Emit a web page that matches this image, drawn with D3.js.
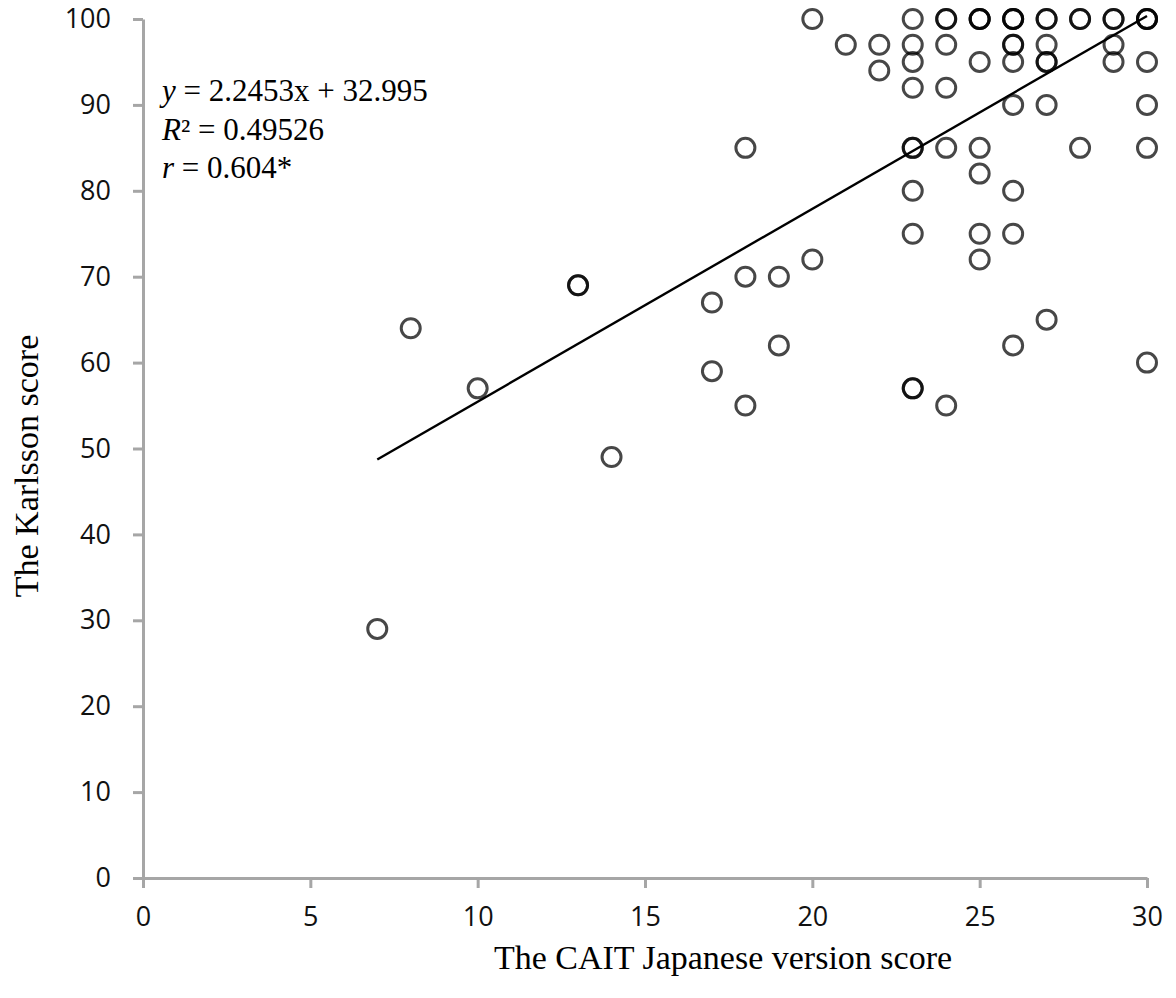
<!DOCTYPE html>
<html>
<head>
<meta charset="utf-8">
<script src="https://cdn.jsdelivr.net/npm/d3@7"></script>
<style>
  html, body { margin: 0; padding: 0; background: #fff; }
  svg { display: block; }
</style>
</head>
<body>
<svg id="chart" width="1176" height="998"></svg>
<script>
// CAIT score (x) vs Karlsson score (y)
let caitScore = [
  7, 8, 10, 13, 13, 14, 17, 17, 18, 18, 18, 19, 19, 20, 20, 21, 22, 22,
  23, 23, 23, 23, 23, 23, 23, 23, 23, 23,
  24, 24, 24, 24, 24, 24,
  25, 25, 25, 25, 25, 25, 25, 25,
  26, 26, 26, 26, 26, 26, 26, 26, 26, 26,
  27, 27, 27, 27, 27, 27, 27,
  28, 28, 28,
  29, 29, 29, 29,
  30, 30, 30, 30, 30, 30, 30
]
let karlssonScore = [
  29, 64, 57, 69, 69, 49, 67, 59, 85, 70, 55, 70, 62, 100, 72, 97, 97, 94,
  100, 97, 95, 92, 85, 85, 80, 75, 57, 57,
  100, 100, 97, 92, 85, 55,
  100, 100, 100, 95, 85, 82, 75, 72,
  100, 100, 100, 97, 97, 95, 90, 80, 75, 62,
  100, 100, 97, 95, 95, 90, 65,
  100, 100, 85,
  100, 100, 97, 95,
  100, 100, 100, 95, 90, 85, 60
]

let xTicks = [0, 5, 10, 15, 20, 25, 30]
let yTicks = [0, 10, 20, 30, 40, 50, 60, 70, 80, 90, 100]

let slope = 2.2453
let intercept = 32.995
let fitRange = [7, 30]

let fitLines = [
  { italic: 'y', rest: ' = 2.2453x + 32.995' },
  { italic: 'R', rest: '² = 0.49526' },
  { italic: 'r', rest: ' = 0.604*' }
]

let xTitle = 'The CAIT Japanese version score'
let yTitle = 'The Karlsson score'

let svg = d3.select('#chart')
let axisColor = '#a6a6a6'
let sans = '"Open Sans", "Noto Sans", sans-serif'
let serif = '"Liberation Serif", "DejaVu Serif", serif'

let x = d3.scaleLinear().domain([0, 30]).range([143, 1147])
let y = d3.scaleLinear().domain([0, 100]).range([878, 19])

// axes
let gx = svg.append('g')
  .attr('transform', `translate(0,${y(0)})`)
  .call(d3.axisBottom(x).tickValues(xTicks).tickSize(10).tickSizeOuter(0).tickPadding(19))
let gy = svg.append('g')
  .attr('transform', `translate(${x(0)},0)`)
  .call(d3.axisLeft(y).tickValues(yTicks).tickSize(10).tickSizeOuter(0).tickPadding(22))

;[gx, gy].forEach(g => {
  g.select('.domain').attr('stroke', axisColor).attr('stroke-width', 3)
  g.selectAll('.tick line').attr('stroke', axisColor).attr('stroke-width', 3)
  g.selectAll('.tick text')
    .attr('fill', '#111')
    .style('font-family', sans)
    .style('font-size', '27px')
})

// points
svg.append('g')
  .selectAll('circle')
  .data(caitScore.map((v, i) => [v, karlssonScore[i]]))
  .join('circle')
  .attr('cx', d => x(d[0]))
  .attr('cy', d => y(d[1]))
  .attr('r', 9.5)
  .attr('fill', 'none')
  .attr('stroke', '#000')
  .attr('stroke-opacity', 0.72)
  .attr('stroke-width', 3)

// trend line
let line = d3.line().x(d => x(d)).y(d => y(slope * d + intercept))
svg.append('path')
  .attr('d', line(fitRange))
  .attr('fill', 'none')
  .attr('stroke', '#000')
  .attr('stroke-width', 2.4)

// equation block
let eq = svg.append('g')
  .style('font-family', serif)
  .style('font-size', '31px')
  .attr('fill', '#000')
fitLines.forEach((l, i) => {
  let t = eq.append('text').attr('x', 162).attr('y', 101 + i * 38.5)
  t.append('tspan').style('font-style', 'italic').text(l.italic)
  t.append('tspan').text(l.rest)
})

// axis titles
svg.append('text')
  .attr('x', 723)
  .attr('y', 969)
  .attr('text-anchor', 'middle')
  .style('font-family', serif)
  .style('font-size', '34px')
  .text(xTitle)

svg.append('text')
  .attr('transform', 'translate(38,466) rotate(-90)')
  .attr('text-anchor', 'middle')
  .style('font-family', serif)
  .style('font-size', '34px')
  .text(yTitle)
</script>
</body>
</html>
